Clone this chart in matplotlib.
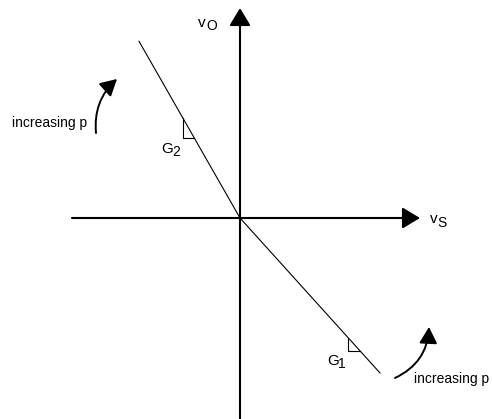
import matplotlib.pyplot as plt
from matplotlib.patches import FancyArrowPatch, ArrowStyle

plt.rcParams['font.family'] = ['Liberation Sans', 'DejaVu Sans']

# slopes of the two branches (vo = -G * vs)
G2 = 1.75
G1 = 1.107
vs_left = [-101, 0]
vs_right = [0, 140]

# axis extents
vs_axis = [-168, 180]
vo_axis = [-201, 210]

# small slope triangles: (vo where the vertical side starts, its height)
tri_G2 = (100, 20)
tri_G1 = (-119.6, 13.5)

# labels: (text, x, y, size)
labels = [
    ("v", -42, 191, 11), ("O", -34, 188, 10),
    ("v", 190, -5, 11), ("S", 197, -9, 10),
    ("G", -79, 65, 11), ("2", -68, 62, 10),
    ("G", 87, -147, 11), ("1", 98, -150, 10),
    ("increasing p", -228, 91, 10),
    ("increasing p", 174, -165, 10),
]

# curved arrows: (start, tip, rad)
curved = [
    ((-144, 85), (-123, 139), -0.25),
    ((155, -160), (189, -109), 0.3),
]

fig = plt.figure(figsize=(4.92, 4.19), dpi=100)
ax = fig.add_axes([0, 0, 1, 1])
ax.set_xlim(-240, 252)
ax.set_ylim(-201, 218)
ax.axis('off')

axis_style = ArrowStyle('-|>', head_length=10.8, head_width=6.5)
ax.add_patch(FancyArrowPatch((vs_axis[0], 0), (vs_axis[1], 0), arrowstyle=axis_style,
                             color='black', lw=1.5, shrinkA=0, shrinkB=0))
ax.add_patch(FancyArrowPatch((0, vo_axis[0]), (0, vo_axis[1]), arrowstyle=axis_style,
                             color='black', lw=1.5, shrinkA=0, shrinkB=0))

ax.plot(vs_left, [-G2 * v for v in vs_left], color='black', lw=0.8)
ax.plot(vs_right, [-G1 * v for v in vs_right], color='black', lw=0.8)

for (y0, h), g in [(tri_G2, G2), (tri_G1, G1)]:
    x0 = -y0 / g
    x1 = -(y0 - h) / g
    ax.plot([x0, x0, x1], [y0, y0 - h, y0 - h], color='black', lw=0.8)

for txt, x, y, s in labels:
    ax.text(x, y, txt, fontsize=s, ha='left', va='baseline')

curve_style = ArrowStyle('-|>', head_length=10, head_width=5.5)
for p0, p1, rad in curved:
    ax.add_patch(FancyArrowPatch(p0, p1, arrowstyle=curve_style, color='black', lw=1.4,
                                 connectionstyle=f"arc3,rad={rad}", shrinkA=0, shrinkB=0))

fig.savefig("out.png", dpi=100)
